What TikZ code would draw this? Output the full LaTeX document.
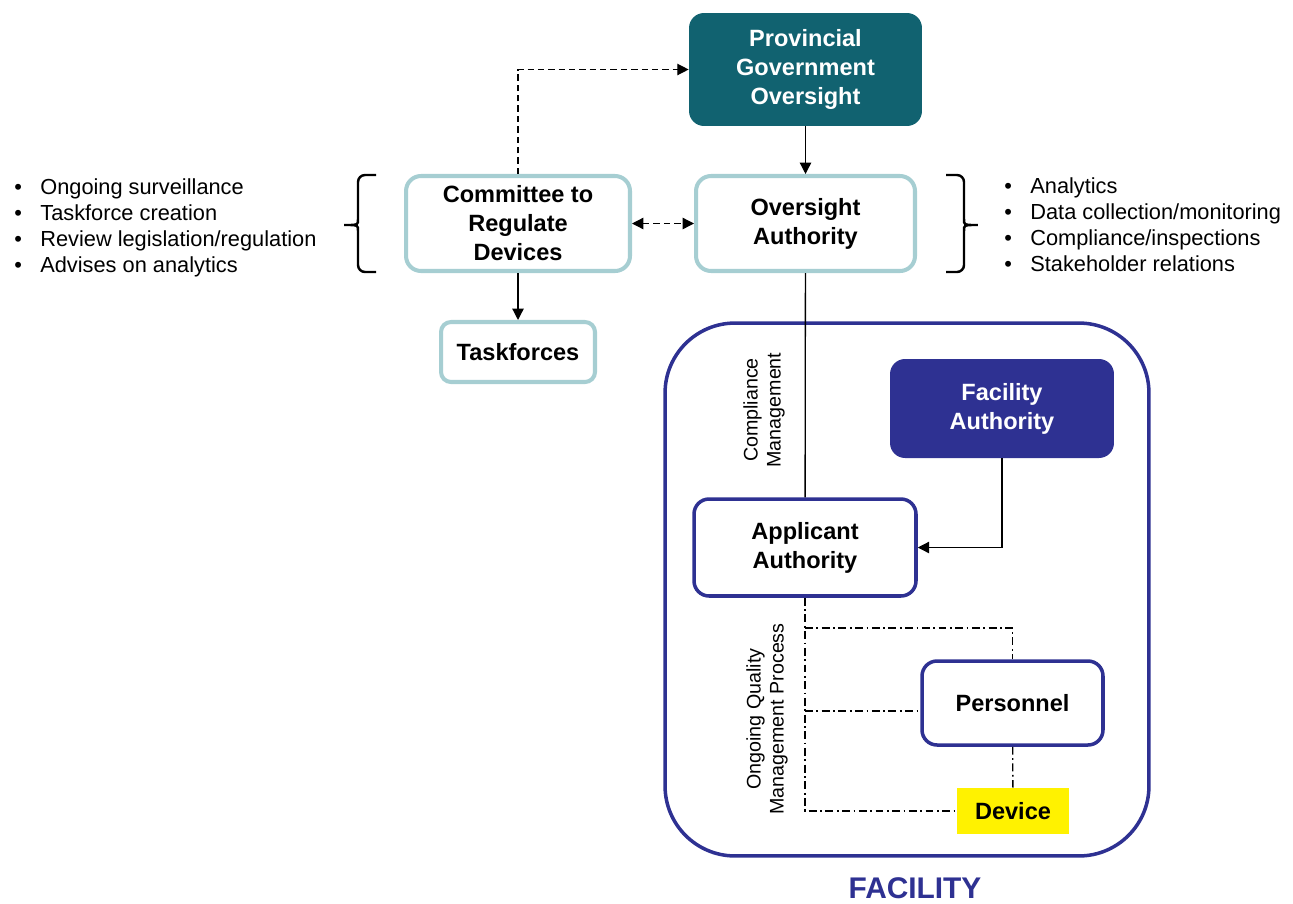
\documentclass[tikz,border=0pt]{standalone}
\usepackage{fontspec}
\setmainfont{Liberation Sans}
\usetikzlibrary{arrows.meta}

\definecolor{govteal}{RGB}{17,98,112}
\definecolor{paleteal}{RGB}{166,206,210}
\definecolor{facnavy}{RGB}{46,49,146}

\newcommand{\boxfont}{\fontsize{13.4}{16.5}\selectfont\bfseries}
\newcommand{\listfont}{\fontsize{12.4}{14.8}\selectfont}
\newcommand{\sidefont}{\fontsize{11.2}{13}\selectfont}
\newcommand{\bul}{\makebox[0.52cm][l]{•}}

\tikzset{
  box/.style={rounded corners=0.3cm, align=center, font=\boxfont, inner sep=0pt},
  tealbox/.style={box, draw=paleteal, line width=2.3pt, fill=white},
  navybox/.style={box, draw=facnavy, line width=2pt, fill=white},
  arr/.style={-{Triangle[length=6.5pt,width=6.5pt]}, line width=0.75pt},
  dasharr/.style={arr, dash pattern=on 3.6pt off 2.3pt},
  qm/.style={line width=0.75pt, dash pattern=on 4.5pt off 2pt on 1pt off 2pt},
  brk/.style={line width=1.4pt, rounded corners=4pt},
  duties/.style={anchor=west, align=left, font=\listfont, inner sep=0pt},
  sidelabel/.style={rotate=90, align=center, font=\sidefont, inner sep=0pt}
}

\begin{document}
\begin{tikzpicture}[x=0.02cm, y=-0.02cm]
\useasboundingbox (0,0) rectangle (1293,903);

\node[draw=facnavy, line width=2pt, rounded corners=1.4cm,
      minimum width=9.68cm, minimum height=10.66cm] (facility) at (907,589.5) {};
\node[font=\fontsize{17}{20}\selectfont\bfseries, text=facnavy] (faclabel) at (915,888) {FACILITY};

\node[box, fill=govteal, text=white, minimum width=4.66cm, minimum height=2.26cm]
  (prov) at (805.5,69.5) {Provincial\\Government\\Oversight};
\node[tealbox, minimum width=4.48cm, minimum height=1.9cm]
  (committee) at (518,223.5) {Committee to\\Regulate\\Devices};
\node[tealbox, minimum width=4.38cm, minimum height=1.9cm]
  (oversight) at (805.5,223.5) {Oversight\\Authority};
\node[tealbox, rounded corners=0.2cm, minimum width=3.08cm, minimum height=1.2cm]
  (taskforces) at (518,352) {Taskforces};

\node[box, fill=facnavy, text=white, minimum width=4.48cm, minimum height=1.98cm]
  (facauth) at (1002,408.5) {Facility\\Authority};
\node[navybox, minimum width=4.44cm, minimum height=1.94cm]
  (applicant) at (805,547.5) {Applicant\\Authority};
\node[navybox, minimum width=3.62cm, minimum height=1.68cm]
  (personnel) at (1012.5,703) {Personnel};
\node[box, rounded corners=0pt, fill=yellow, minimum width=2.24cm, minimum height=0.92cm]
  (device) at (1013,811) {Device};

\node[duties] (crdlist) at (14,228)
  {\bul Ongoing surveillance\\ \bul Taskforce creation\\
   \bul Review legislation/regulation\\ \bul Advises on analytics};
\node[duties] (oalist) at (1004,225)
  {\bul Analytics\\ \bul Data collection/monitoring\\
   \bul Compliance/inspections\\ \bul Stakeholder relations};

\draw[brk] (376,175) -- (358,175) -- (358,212) .. controls (358,225) .. (340,225)
  .. controls (358,225) .. (358,238) -- (358,272) -- (376,272);
\draw[brk] (946,175) -- (964,175) -- (964,212) .. controls (964,225) .. (982,225)
  .. controls (964,225) .. (964,238) -- (964,272) -- (946,272);

\node[sidelabel] (cmlabel) at (764,410) {Compliance\\Management};
\node[sidelabel] (qmlabel) at (767,719) {Ongoing Quality\\Management Process};

\draw[arr] (prov) -- (oversight);
\draw[dasharr] (committee.north) |- (prov.west);
\draw[dasharr, {Triangle[length=6.5pt,width=6.5pt]}-{Triangle[length=6.5pt,width=6.5pt]}] (committee) -- (oversight);
\draw[arr] (committee) -- (taskforces);
\draw[line width=0.75pt] (oversight) -- (applicant);
\draw[arr] (facauth.south) |- (applicant.east);

\coordinate (qtop) at (805,628);
\coordinate (qmid) at (805,711);
\draw[qm] (applicant.south) |- (device.west);
\draw[qm] (qtop) -| (personnel.north);
\draw[qm] (qmid) -- (qmid -| personnel.west);
\draw[qm] (personnel) -- (device);
\end{tikzpicture}
\end{document}
